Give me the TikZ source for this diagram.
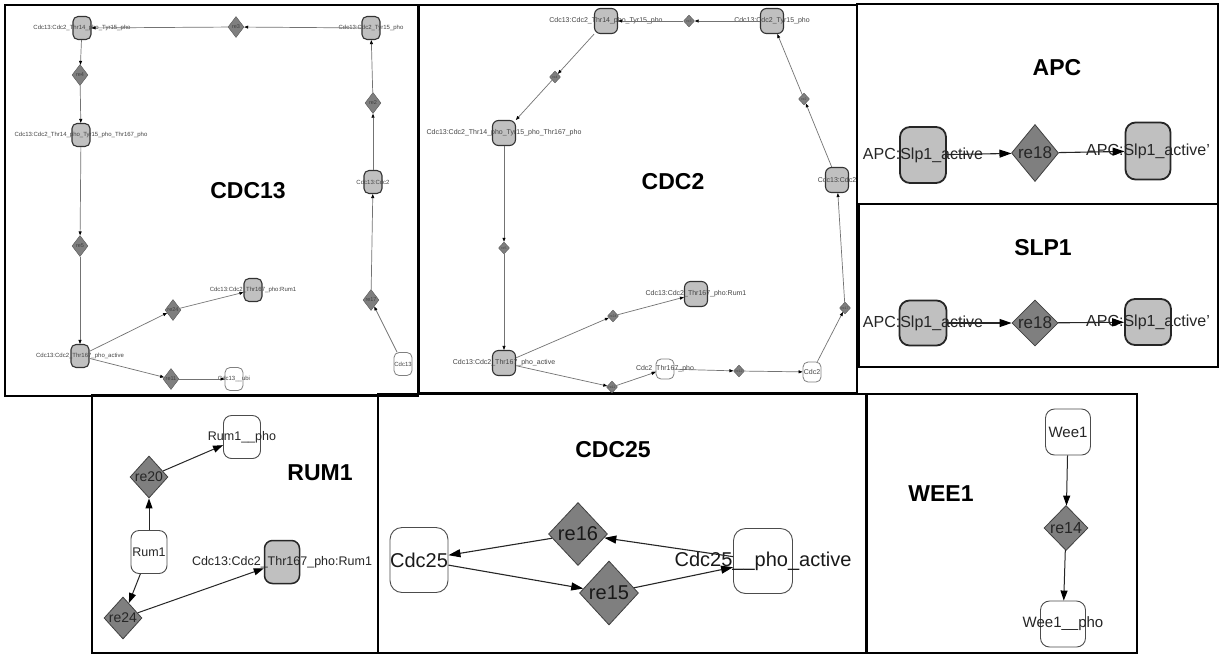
\documentclass[tikz,border=0pt]{standalone}
\usepackage{fontspec}
\setmainfont{Liberation Sans}
\usetikzlibrary{shapes.geometric,arrows.meta}
\definecolor{cfill}{HTML}{C0C0C0}
\definecolor{rfill}{HTML}{7F7F7F}
\definecolor{tgray}{HTML}{444444}
\tikzset{
  panel/.style={draw=black, line width=1.8pt},
  ttl/.style={font=\bfseries\fontsize{23}{23}\selectfont, inner sep=0pt},
  lab/.style 2 args={label={[#1]center:{#2}}},
  % CDC13 panel
  cxs/.style={rectangle, rounded corners=5pt, draw=black!80, line width=1.1pt, fill=cfill, minimum width=18pt, minimum height=23pt, inner sep=0pt},
  wxs/.style={cxs, fill=white, draw=black!50, line width=0.8pt},
  rxs/.style={diamond, draw=black!65, fill=rfill, minimum width=16pt, minimum height=21pt, inner sep=0pt, font=\fontsize{5.5}{5.5}\selectfont, text=black!75},
  tsm/.style={font=\fontsize{6}{6}\selectfont, text=tgray, inner sep=0pt},
  esm/.style={draw=black!55, line width=0.7pt, -{Triangle[length=4pt,width=3pt,color=black]}},
  % CDC2 panel
  cxm/.style={rectangle, rounded corners=6pt, draw=black!80, line width=1.1pt, fill=cfill, minimum width=23pt, minimum height=25pt, inner sep=0pt},
  wxm/.style={cxm, fill=white, draw=black!50, line width=0.8pt, minimum width=18pt, minimum height=20pt, rounded corners=5pt},
  rxm/.style={diamond, draw=black!65, fill=rfill, minimum width=11pt, minimum height=12pt, inner sep=0pt, font=\fontsize{3.5}{3.5}\selectfont, text=black!75},
  tmd/.style={font=\fontsize{7}{7}\selectfont, text=tgray, inner sep=0pt},
  % big panels
  cbig/.style={rectangle, rounded corners=10pt, draw=black!85, line width=1.8pt, fill=cfill, inner sep=0pt},
  wbig/.style={rectangle, rounded corners=9pt, draw=black!70, line width=0.9pt, fill=white, inner sep=0pt},
  rbig/.style={diamond, draw=black!75, fill=rfill, line width=0.8pt, inner sep=0pt},
  ebig/.style={draw=black!85, line width=1.1pt, -{Triangle[length=12pt,width=8pt,color=black]}},
  emid/.style={draw=black!85, line width=1pt, -{Triangle[length=10pt,width=7pt,color=black]}},
}
\begin{document}
\begin{tikzpicture}[x=1pt,y=-1pt]
\useasboundingbox[fill=white] (0,0) rectangle (1223,662);

% ---------- panel frames ----------
\draw[panel] (5,5) rectangle (418,396);
\draw[panel] (419,5) rectangle (857,393);
\draw[panel] (857,4) rectangle (1218,204);
\draw[panel] (859,204) rectangle (1218,367);
\draw[panel] (92,395) rectangle (378,653);
\draw[panel] (378,394) rectangle (867,653);
\draw[panel] (866,394) rectangle (1137,653);

% ---------- CDC13 ----------
\node[ttl] (t13) at (248,191) {CDC13};
\node[cxs, lab={tsm}{Cdc13:Cdc2\_Thr14\_pho\_Tyr15\_pho}] (a1) at (82,28) {};
\node[cxs, lab={tsm}{Cdc13:Cdc2\_Tyr15\_pho}] (a2) at (371,28) {};
\node[cxs, lab={tsm}{Cdc13:Cdc2\_Thr14\_pho\_Tyr15\_pho\_Thr167\_pho}] (a3) at (81,135) {};
\node[cxs, lab={tsm}{Cdc13:Cdc2}] (a4) at (373,182) {};
\node[cxs, lab={tsm}{Cdc13:Cdc2\_Thr167\_pho\_active}] (a5) at (80,356) {};
\node[cxs, lab={tsm}{Cdc13:Cdc2\_Thr167\_pho:Rum1}] (a6) at (253,290) {};
\node[wxs, lab={tsm}{Cdc13\_\_ubi}] (a7) at (234,379) {};
\node[wxs, lab={tsm}{Cdc13}] (a8) at (403,364) {};
\node[rxs] (r3) at (236,27) {re3};
\node[rxs] (r4) at (80,75) {re4};
\node[rxs] (r2) at (373,103) {re2};
\node[rxs] (r5) at (80,246) {re5};
\node[rxs] (r24) at (173,310) {re24};
\node[rxs] (r11) at (171,379) {re11};
\node[rxs] (r17) at (371,300) {re17};
\draw[esm] (a2) -- (r3);
\draw[esm] (r3) -- (a1);
\draw[esm] (a1) -- (r4);
\draw[esm] (r4) -- (a3);
\draw[esm] (a3) -- (r5);
\draw[esm] (r5) -- (a5);
\draw[esm] (a5) -- (r24);
\draw[esm] (r24) -- (a6);
\draw[esm] (a5) -- (r11);
\draw[esm] (r11) -- (a7);
\draw[esm] (a8) -- (r17);
\draw[esm] (r17) -- (a4);
\draw[esm] (a4) -- (r2);
\draw[esm] (r2) -- (a2);

% ---------- CDC2 ----------
\node[ttl] (t2) at (673,182) {CDC2};
\node[cxm, lab={tmd}{Cdc13:Cdc2\_Thr14\_pho\_Tyr15\_pho}] (b1) at (606,21) {};
\node[cxm, lab={tmd}{Cdc13:Cdc2\_Tyr15\_pho}] (b2) at (772,21) {};
\node[cxm, lab={tmd}{Cdc13:Cdc2\_Thr14\_pho\_Tyr15\_pho\_Thr167\_pho}] (b3) at (504,133) {};
\node[cxm, lab={tmd}{Cdc13:Cdc2}] (b4) at (837,180) {};
\node[cxm, lab={tmd}{Cdc13:Cdc2\_Thr167\_pho\_active}] (b5) at (504,363) {};
\node[cxm, lab={tmd}{Cdc13:Cdc2\_Thr167\_pho:Rum1}] (b6) at (696,294) {};
\node[wxm, lab={tmd}{Cdc2\_Thr167\_pho}] (b7) at (665,369) {};
\node[wxm, lab={tmd}{Cdc2}] (b8) at (812,372) {};
\node[rxm] (q3) at (689,21) {re3};
\node[rxm] (q4) at (555,77) {re4};
\node[rxm] (q2) at (804,99) {re2};
\node[rxm] (q5) at (504,248) {re5};
\node[rxm] (q24) at (613,316) {re24};
\node[rxm] (q11) at (612,387) {re11};
\node[rxm] (q12) at (739,371) {re12};
\node[rxm] (q17) at (845,308) {re17};
\draw[esm] (b2) -- (q3);
\draw[esm] (q3) -- (b1);
\draw[esm] (b1) -- (q4);
\draw[esm] (q4) -- (b3);
\draw[esm] (b3) -- (q5);
\draw[esm] (q5) -- (b5);
\draw[esm] (b5) -- (q24);
\draw[esm] (q24) -- (b6);
\draw[esm] (b5) -- (q11);
\draw[esm] (q11) -- (b7);
\draw[esm] (b7) -- (q12);
\draw[esm] (q12) -- (b8);
\draw[esm] (b8) -- (q17);
\draw[esm] (q17) -- (b4);
\draw[esm] (b4) -- (q2);
\draw[esm] (q2) -- (b2);

% ---------- APC ----------
\node[ttl] (tapc) at (1057,68) {APC};
\node[cbig, minimum width=46pt, minimum height=56pt, lab={font=\fontsize{16}{16}\selectfont, text=black!85}{APC:Slp1\_active}] (c1) at (923,155) {};
\node[cbig, minimum width=45pt, minimum height=57pt, lab={font=\fontsize{16}{16}\selectfont, text=black!85}{APC:Slp1\_active'}] (c2) at (1148,151) {};
\node[rbig, minimum width=47pt, minimum height=57pt, font=\fontsize{17}{17}\selectfont, text=black!85] (s18) at (1035,153) {re18};
\draw[ebig] (c1) -- (s18);
\draw[ebig] (s18) -- (c2);

% ---------- SLP1 ----------
\node[ttl] (tslp) at (1043,248) {SLP1};
\node[cbig, minimum width=47pt, minimum height=45pt, lab={font=\fontsize{16}{16}\selectfont, text=black!85}{APC:Slp1\_active}] (d1) at (923,323) {};
\node[cbig, minimum width=46pt, minimum height=46pt, lab={font=\fontsize{16}{16}\selectfont, text=black!85}{APC:Slp1\_active'}] (d2) at (1148,322) {};
\node[rbig, minimum width=46pt, minimum height=46pt, font=\fontsize{17}{17}\selectfont, text=black!85] (u18) at (1035,323) {re18};
\draw[ebig] (d1) -- (u18);
\draw[ebig] (u18) -- (d2);

% ---------- RUM1 ----------
\node[ttl] (trum) at (320,473) {RUM1};
\node[wbig, rounded corners=8pt, minimum width=37pt, minimum height=43pt, lab={font=\fontsize{12.5}{12.5}\selectfont, text=black!85}{Rum1\_\_pho}] (e1) at (242,437) {};
\node[wbig, rounded corners=8pt, minimum width=36pt, minimum height=43pt, lab={font=\fontsize{12.5}{12.5}\selectfont, text=black!85}{Rum1}] (e2) at (149,552) {};
\node[cbig, rounded corners=8pt, line width=1.5pt, minimum width=35pt, minimum height=43pt, lab={font=\fontsize{12.5}{12.5}\selectfont, text=black!85}{Cdc13:Cdc2\_Thr167\_pho:Rum1}] (e3) at (282,562) {};
\node[rbig, minimum width=37pt, minimum height=42pt, font=\fontsize{14}{14}\selectfont, text=black!85] (v20) at (149,477) {re20};
\node[rbig, minimum width=35pt, minimum height=42pt, font=\fontsize{14}{14}\selectfont, text=black!85] (v24) at (123,618) {re24};
\draw[emid] (e2) -- (v20);
\draw[emid] (v20) -- (e1);
\draw[emid] (e2) -- (v24);
\draw[emid] (v24) -- (e3);

% ---------- CDC25 ----------
\node[ttl] (t25) at (613,450) {CDC25};
\node[wbig, rounded corners=12pt, minimum width=58pt, minimum height=65pt, lab={font=\fontsize{20}{20}\selectfont, text=black!90}{Cdc25}] (f1) at (419,560) {};
\node[wbig, rounded corners=12pt, minimum width=59pt, minimum height=65pt, lab={font=\fontsize{20}{20}\selectfont, text=black!90}{Cdc25\_\_pho\_active}] (f2) at (763,561) {};
\node[rbig, minimum width=59pt, minimum height=63pt, font=\fontsize{20}{20}\selectfont, text=black!90] (w16) at (578,534) {re16};
\node[rbig, minimum width=59pt, minimum height=64pt, font=\fontsize{20}{20}\selectfont, text=black!90] (w15) at (609,593) {re15};
\draw[ebig] (f1) -- (w15);
\draw[ebig] (w15) -- (f2);
\draw[ebig] (f2) -- (w16);
\draw[ebig] (w16) -- (f1);

% ---------- WEE1 ----------
\node[ttl] (twee) at (941,494) {WEE1};
\node[wbig, minimum width=45pt, minimum height=46pt, lab={font=\fontsize{15}{15}\selectfont, text=black!85}{Wee1}] (g1) at (1068,432) {};
\node[wbig, minimum width=45pt, minimum height=46pt, lab={font=\fontsize{15}{15}\selectfont, text=black!85}{Wee1\_\_pho}] (g2) at (1063,624) {};
\node[rbig, minimum width=44pt, minimum height=45pt, font=\fontsize{16}{16}\selectfont, text=black!85] (x14) at (1066,528) {re14};
\draw[emid] (g1) -- (x14);
\draw[emid] (x14) -- (g2);
\end{tikzpicture}
\end{document}
